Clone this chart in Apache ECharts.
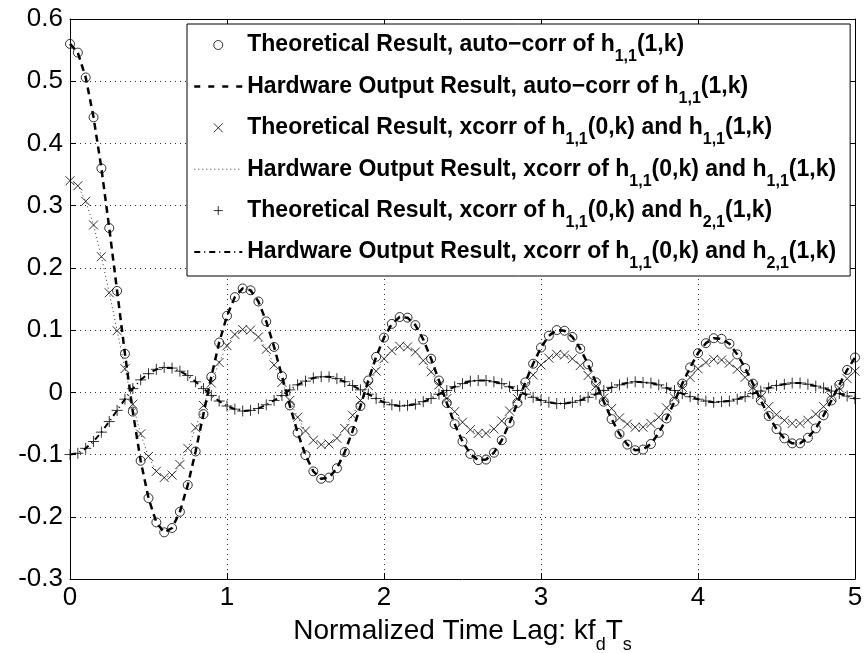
<!DOCTYPE html>
<html><head><meta charset="utf-8">
<script src="https://cdn.jsdelivr.net/npm/echarts@6/dist/echarts.min.js"></script>
<style>html,body{margin:0;padding:0;background:#fff}#c{width:864px;height:653px}</style>
</head><body><div id="c"></div>
<script>
// Normalized time lag k*fd*Ts
const lags = [0,0.05,0.1,0.15,0.2,0.25,0.3,0.35,0.4,0.45,
0.5,0.55,0.6,0.65,0.7,0.75,0.8,0.85,0.9,0.95,
1,1.05,1.1,1.15,1.2,1.25,1.3,1.35,1.4,1.45,
1.5,1.55,1.6,1.65,1.7,1.75,1.8,1.85,1.9,1.95,
2,2.05,2.1,2.15,2.2,2.25,2.3,2.35,2.4,2.45,
2.5,2.55,2.6,2.65,2.7,2.75,2.8,2.85,2.9,2.95,
3,3.05,3.1,3.15,3.2,3.25,3.3,3.35,3.4,3.45,
3.5,3.55,3.6,3.65,3.7,3.75,3.8,3.85,3.9,3.95,
4,4.05,4.1,4.15,4.2,4.25,4.3,4.35,4.4,4.45,
4.5,4.55,4.6,4.65,4.7,4.75,4.8,4.85,4.9,4.95,
5];

// Theoretical auto-corr of h11(1,k)  (circles)
const theoAuto = [0.560,0.546,0.506,0.442,0.360,0.264,0.163,0.062,-0.031,-0.110,
-0.170,-0.209,-0.225,-0.218,-0.192,-0.149,-0.095,-0.035,0.025,0.080,
0.123,0.153,0.167,0.164,0.146,0.114,0.073,0.026,-0.021,-0.065,
-0.101,-0.127,-0.139,-0.137,-0.122,-0.096,-0.062,-0.022,0.019,0.057,
0.088,0.110,0.121,0.120,0.108,0.085,0.054,0.019,-0.017,-0.051,
-0.079,-0.099,-0.109,-0.108,-0.097,-0.077,-0.049,-0.017,0.016,0.046,
0.072,0.091,0.100,0.099,0.089,0.070,0.045,0.016,-0.015,-0.043,
-0.067,-0.084,-0.093,-0.092,-0.083,-0.065,-0.042,-0.015,0.014,0.040,
0.063,0.079,0.087,0.086,0.078,0.061,0.039,0.014,-0.013,-0.038,
-0.059,-0.074,-0.082,-0.082,-0.073,-0.058,-0.037,-0.013,0.012,0.036,
0.056];

// Theoretical xcorr of h11(0,k) and h11(1,k)  (x marks)
const theoX11 = [0.340,0.332,0.307,0.269,0.218,0.160,0.099,0.038,-0.019,-0.067,
-0.103,-0.127,-0.137,-0.133,-0.116,-0.090,-0.057,-0.021,0.015,0.048,
0.075,0.093,0.101,0.100,0.089,0.069,0.044,0.016,-0.013,-0.040,
-0.062,-0.077,-0.084,-0.083,-0.074,-0.058,-0.037,-0.013,0.011,0.034,
0.054,0.067,0.074,0.073,0.065,0.051,0.033,0.012,-0.010,-0.031,
-0.048,-0.060,-0.066,-0.066,-0.059,-0.046,-0.030,-0.010,0.010,0.028,
0.044,0.055,0.061,0.060,0.054,0.043,0.027,0.010,-0.009,-0.026,
-0.041,-0.051,-0.056,-0.056,-0.050,-0.040,-0.025,-0.009,0.008,0.024,
0.038,0.048,0.053,0.052,0.047,0.037,0.024,0.008,-0.008,-0.023,
-0.036,-0.045,-0.050,-0.050,-0.045,-0.035,-0.023,-0.008,0.007,0.022,
0.034];

// Theoretical xcorr of h11(0,k) and h21(1,k)  (plus marks)
const theoX21 = [-0.100,-0.098,-0.090,-0.079,-0.064,-0.047,-0.029,-0.011,0.006,0.020,
0.030,0.037,0.040,0.039,0.034,0.027,0.017,0.006,-0.005,-0.014,
-0.022,-0.027,-0.030,-0.029,-0.026,-0.020,-0.013,-0.005,0.004,0.012,
0.018,0.023,0.025,0.025,0.022,0.017,0.011,0.004,-0.003,-0.010,
-0.016,-0.020,-0.022,-0.021,-0.019,-0.015,-0.010,-0.003,0.003,0.009,
0.014,0.018,0.019,0.019,0.017,0.014,0.009,0.003,-0.003,-0.008,
-0.013,-0.016,-0.018,-0.018,-0.016,-0.013,-0.008,-0.003,0.003,0.008,
0.012,0.015,0.017,0.016,0.015,0.012,0.007,0.003,-0.002,-0.007,
-0.011,-0.014,-0.016,-0.015,-0.014,-0.011,-0.007,-0.002,0.002,0.007,
0.011,0.013,0.015,0.015,0.013,0.010,0.007,0.002,-0.002,-0.006,
-0.010];

// Hardware outputs: read as lying on the theoretical points
const hwAuto = theoAuto;
const hwX11 = theoX11;
const hwX21 = theoX21;

const xTickLabels = ['0','1','2','3','4','5'];
const yTickLabels = ['-0.3','-0.2','-0.1','0','0.1','0.2','0.3','0.4','0.5','0.6'];

const seriesNames = [
  'Theoretical Result, auto\u2212corr of h_{1,1}(1,k)',
  'Hardware Output Result, auto\u2212corr of h_{1,1}(1,k)',
  'Theoretical Result, xcorr of h_{1,1}(0,k) and h_{1,1}(1,k)',
  'Hardware Output Result, xcorr of h_{1,1}(0,k) and h_{1,1}(1,k)',
  'Theoretical Result, xcorr of h_{1,1}(0,k) and h_{2,1}(1,k)',
  'Hardware Output Result, xcorr of h_{1,1}(0,k) and h_{2,1}(1,k)'
];

function pairs(ys){ return lags.map((x,i)=>[x, ys[i]]); }

function legendFmt(name){
  const parts = name.split(/_\{([^}]*)\}/);
  let out = '';
  parts.forEach((p,i)=>{ if(!p) return; out += (i%2===1) ? '{s|'+p+'}' : '{b|'+p+'}'; });
  return out;
}

const FONT = '"Liberation Sans", Arial, Helvetica, sans-serif';
const chart = echarts.init(document.getElementById('c'), null, {renderer:'canvas'});
const hide = {color:'transparent', borderColor:'transparent'};

chart.setOption({
  animation:false,
  backgroundColor:'#fff',
  grid:{left:70, right:9, top:19, bottom:74, containLabel:false, outerBoundsMode:'none'},
  legend:{
    orient:'vertical', left:187, top:24,
    padding:[6,14,4,6], itemGap:6.4, itemWidth:48, itemHeight:9,
    backgroundColor:'#fff', borderColor:'#000', borderWidth:1, borderRadius:0,
    selectedMode:false,
    itemStyle:{borderWidth:1},
    formatter:legendFmt,
    textStyle:{color:'#000', fontFamily:FONT,
      rich:{
        b:{fontSize:23, fontWeight:'bold', fontFamily:FONT, color:'#000', lineHeight:30, height:30},
        s:{fontSize:16, fontWeight:'bold', fontFamily:FONT, color:'#000', height:6, lineHeight:6, verticalAlign:'bottom'}
      }},
    data:[
      {name:seriesNames[0]},
      {name:seriesNames[1], itemStyle:hide, lineStyle:{width:2.5, type:[6,8], color:'#000'}},
      {name:seriesNames[2]},
      {name:seriesNames[3], itemStyle:hide, lineStyle:{width:1, type:[1,3], color:'#333'}},
      {name:seriesNames[4]},
      {name:seriesNames[5], itemStyle:hide, lineStyle:{width:2, type:[6,4,1,4], color:'#000'}}
    ]
  },
  xAxis:[{
    type:'value', min:0, max:5, interval:1, position:'bottom',
    axisLine:{show:true, onZero:false, lineStyle:{color:'#000', width:1}},
    axisTick:{show:true, inside:true, length:6, lineStyle:{color:'#000'}},
    axisLabel:{color:'#000', fontSize:26, fontFamily:FONT, margin:6,
      formatter:v=>xTickLabels[Math.round(v)]},
    splitLine:{show:true, lineStyle:{color:'#333', type:[1,4], width:1}},
    name:'{m|Normalized Time Lag: kf}{s|d}{m|T}{s|s}', nameLocation:'middle', nameGap:36,
    nameTextStyle:{color:'#000', fontSize:28, fontFamily:FONT,
      rich:{
        m:{fontSize:28, fontFamily:FONT, color:'#000', lineHeight:30, height:30},
        s:{fontSize:18, fontFamily:FONT, color:'#000', height:2, lineHeight:2, verticalAlign:'bottom'}
      }}
  },{
    type:'value', min:0, max:5, interval:1, position:'top',
    axisLine:{show:true, onZero:false, lineStyle:{color:'#000', width:1}},
    axisTick:{show:true, inside:true, length:6, lineStyle:{color:'#000'}},
    axisLabel:{show:false}, splitLine:{show:false}
  }],
  yAxis:[{
    type:'value', min:-0.3, max:0.6, interval:0.1, position:'left',
    axisLine:{show:true, onZero:false, lineStyle:{color:'#000', width:1}},
    axisTick:{show:true, inside:true, length:6, lineStyle:{color:'#000'}},
    axisLabel:{color:'#000', fontSize:26, fontFamily:FONT, margin:7,
      formatter:v=>yTickLabels[Math.round((v+0.3)*10)]},
    splitLine:{show:true, lineStyle:{color:'#333', type:[1,4], width:1}}
  },{
    type:'value', min:-0.3, max:0.6, interval:0.1, position:'right',
    axisLine:{show:true, onZero:false, lineStyle:{color:'#000', width:1}},
    axisTick:{show:true, inside:true, length:6, lineStyle:{color:'#000'}},
    axisLabel:{show:false}, splitLine:{show:false}
  }],
  series:[
    {name:seriesNames[0], type:'scatter', data:pairs(theoAuto), symbol:'circle', symbolSize:9,
      itemStyle:{color:'none', borderColor:'#000', borderWidth:1}, z:3},
    {name:seriesNames[1], type:'line', data:pairs(hwAuto), symbol:'none', showSymbol:false,
      itemStyle:hide, lineStyle:{color:'#000', width:2.5, type:[7,5]}, z:4},
    {name:seriesNames[2], type:'scatter', data:pairs(theoX11), symbol:'path://M0,0L10,10M10,0L0,10', symbolSize:9,
      itemStyle:{color:'none', borderColor:'#000', borderWidth:1}, z:5},
    {name:seriesNames[3], type:'line', data:pairs(hwX11), symbol:'none', showSymbol:false,
      itemStyle:hide, lineStyle:{color:'#333', width:1, type:[1,3]}, z:6},
    {name:seriesNames[4], type:'scatter', data:pairs(theoX21), symbol:'path://M5,0L5,10M0,5L10,5', symbolSize:11,
      itemStyle:{color:'none', borderColor:'#000', borderWidth:1}, z:7},
    {name:seriesNames[5], type:'line', data:pairs(hwX21), symbol:'none', showSymbol:false,
      itemStyle:hide, lineStyle:{color:'#000', width:2, type:[6,4,1,4]}, z:8}
  ]
});
</script>
</body></html>
